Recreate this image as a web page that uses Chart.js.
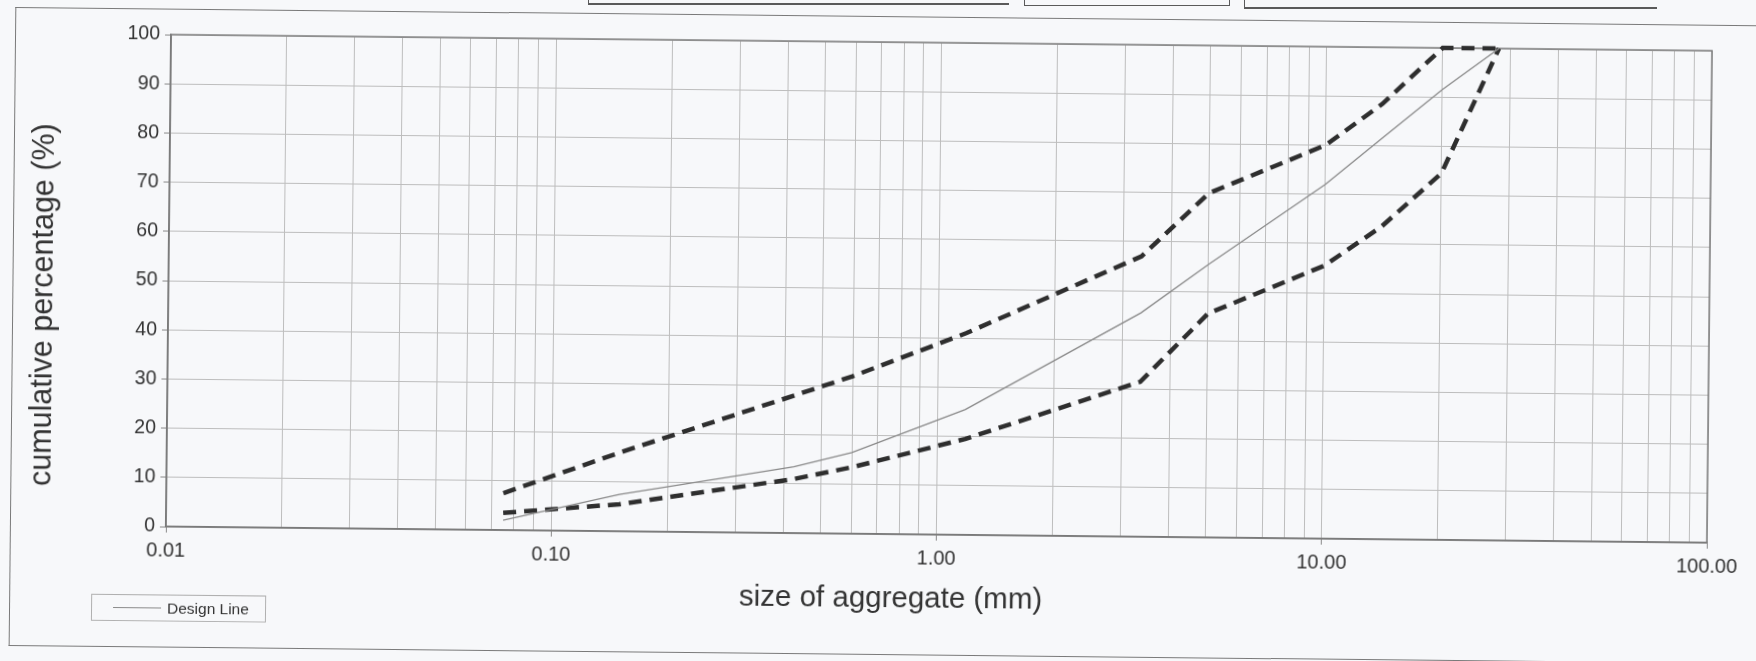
<!DOCTYPE html>
<html>
<head>
<meta charset="utf-8">
<title>Aggregate grading</title>
<script src="https://cdn.jsdelivr.net/npm/chart.js@4.4.1/dist/chart.umd.min.js"></script>
<style>
	html, body { margin: 0; padding: 0; width: 1756px; height: 661px; overflow: hidden; background: #f7f8fa; }
	#sheet { position: absolute; left: 0; top: 0; width: 1756px; height: 661px; transform: rotate(0.6deg); transform-origin: 878px 330px; }
	#frame { position: absolute; left: 12px; top: 16px; width: 1800px; height: 637px; border: 1.5px solid #7a7a7a; border-right: none; }
	#chart { position: absolute; left: 0; top: 0; }
	#legend { position: absolute; left: 94px; top: 602px; width: 175px; height: 27px; border: 1px solid #b0b0b0; box-sizing: border-box;
		font: 15.5px "Liberation Sans", Arial, sans-serif; color: #333; display: flex; align-items: center; }
	#legend .swatch { display: inline-block; width: 48px; height: 0; border-top: 1.3px solid #8a8a8a; margin: 0 6px 0 21px; }
	.cell { position: absolute; border: 0 solid #5a5a5a; }
</style>
</head>
<body>
<div class="cell" style="left:588px; top:-10px; width:420px; height:13px; border-bottom-width:2px; border-left-width:1px;"></div>
<div class="cell" style="left:1024px; top:-10px; width:204px; height:15px; border-width:0 1.5px 1.5px 1.5px;"></div>
<div class="cell" style="left:1244px; top:-10px; width:412px; height:17px; border-bottom-width:2px; border-left-width:1px;"></div>
<div id="sheet">
	<div id="frame"></div>
	<canvas id="chart" width="1756" height="661"></canvas>
	<div id="legend"></div>
</div>
<script>
// sieve sizes (mm) and cumulative % passing
const sieveSizes = [0.075, 0.15, 0.425, 0.6, 1.18, 3.35, 5, 10, 14, 20, 28];
const designLine = [2, 7.5, 13.5, 16.5, 25.5, 45.5, 55.5, 72, 81.5, 91.5, 100];
const upperLimit = [7.5, 16, 28, 32, 41, 57, 70, 80, 88.5, 100, 100];
const lowerLimit = [3.5, 5.5, 11, 13.5, 19.5, 31.5, 45.5, 55.5, 63.5, 74.5, 100];

const xDecades = [0.01, 0.1, 1, 10, 100];
const xTickLabels = ["0.01", "0.10", "1.00", "10.00", "100.00"];

const gridColor = "#bdbdbd";
const textColor = "#333333";

Chart.defaults.font.family = '"Liberation Sans", Arial, sans-serif';

const toPoints = (values) => sieveSizes.map((size, i) => ({ x: size, y: values[i] }));

const decadeIndex = (value) => xDecades.findIndex((d) => Math.abs(d - value) < d * 1e-6);

const plotBorder = {
	id: "plotBorder",
	beforeDatasetsDraw(chart) {
		const { ctx, chartArea: a } = chart;
		ctx.save();
		ctx.strokeStyle = "#7d7d7d";
		ctx.lineWidth = 1.5;
		ctx.strokeRect(a.left, a.top, a.right - a.left, a.bottom - a.top);
		ctx.restore();
	},
};

const chart = new Chart(document.getElementById("chart"), {
	type: "line",
	data: {
		datasets: [
			{
				label: "Design Line",
				inLegend: true,
				data: toPoints(designLine),
				borderColor: "#8a8a8a",
				borderWidth: 1.3,
			},
			{
				label: "Upper limit",
				data: toPoints(upperLimit),
				borderColor: "#2e2e2e",
				borderWidth: 4.5,
				borderDash: [13, 8],
				clip: false,
			},
			{
				label: "Lower limit",
				data: toPoints(lowerLimit),
				borderColor: "#2e2e2e",
				borderWidth: 4.5,
				borderDash: [13, 8],
				clip: false,
			},
		],
	},
	options: {
		responsive: false,
		animation: false,
		devicePixelRatio: 1,
		layout: { padding: { left: 0, top: 42, right: 47, bottom: 27 } },
		elements: { point: { radius: 0 }, line: { tension: 0 } },
		plugins: { legend: { display: false }, tooltip: { enabled: false } },
		scales: {
			x: {
				type: "logarithmic",
				min: 0.01,
				max: 100,
				afterBuildTicks(scale) {
					const ticks = [];
					xDecades.forEach((d, i) => {
						if (i === xDecades.length - 1) {
							ticks.push({ value: d });
							return;
						}
						for (let k = 1; k <= 9; k++) ticks.push({ value: k * d });
					});
					scale.ticks = ticks;
				},
				afterFit(scale) {
					scale.height = 100;
				},
				ticks: {
					autoSkip: false,
					maxRotation: 0,
					padding: 6,
					color: textColor,
					font: { size: 20 },
					callback(value) {
						const i = decadeIndex(value);
						return i >= 0 ? xTickLabels[i] : "";
					},
				},
				grid: {
					color: gridColor,
					tickLength: 6,
					tickColor: (ctx) => (ctx.tick && decadeIndex(ctx.tick.value) >= 0 ? "#8a8a8a" : "rgba(0,0,0,0)"),
				},
				border: { color: "#6f6f6f", width: 1.5 },
				title: {
					display: true,
					text: "size of aggregate (mm)" + " ".repeat(11),
					color: "#333",
					font: { size: 29.5 },
					padding: { top: 0, bottom: 17 },
				},
			},
			y: {
				min: 0,
				max: 100,
				afterFit(scale) {
					scale.width = 168;
				},
				ticks: { stepSize: 10, padding: 5, color: textColor, font: { size: 19.5 } },
				grid: { color: gridColor, tickLength: 6, tickColor: "#8a8a8a" },
				border: { color: "#6f6f6f", width: 1.5 },
				title: {
					display: true,
					text: "cumulative percentage (%)" + " ".repeat(6),
					color: "#333",
					font: { size: 30.5 },
					padding: { top: 25, bottom: 0 },
				},
			},
		},
	},
	plugins: [plotBorder],
});

// html legend, only the design line is listed
const legendEl = document.getElementById("legend");
chart.data.datasets
	.filter((ds) => ds.inLegend)
	.forEach((ds) => {
		const swatch = document.createElement("span");
		swatch.className = "swatch";
		swatch.style.borderTopColor = ds.borderColor;
		const text = document.createElement("span");
		text.textContent = ds.label;
		legendEl.appendChild(swatch);
		legendEl.appendChild(text);
	});
</script>
</body>
</html>
